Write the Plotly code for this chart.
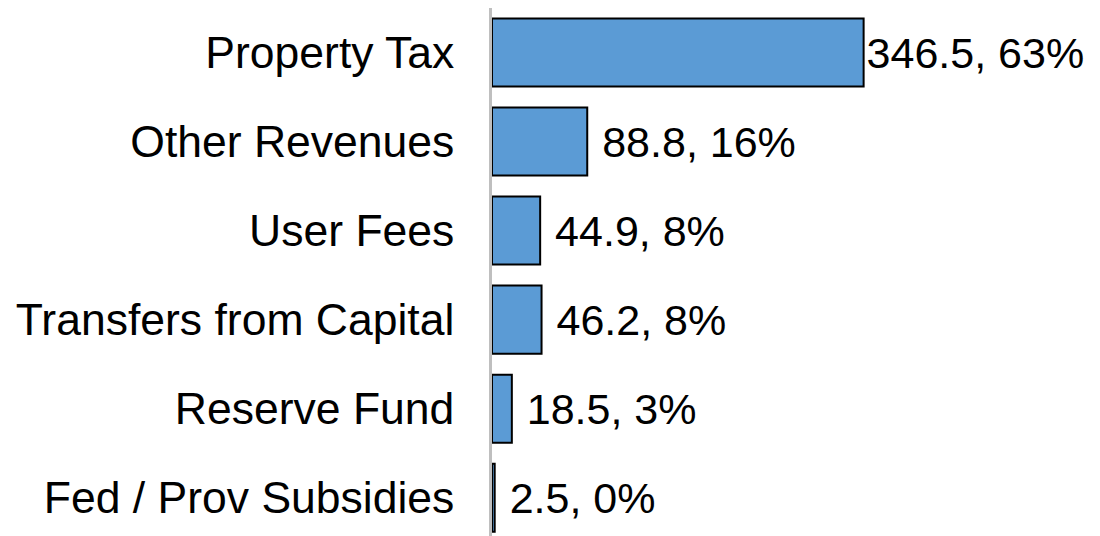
import plotly.graph_objects as go

categories = ["Property Tax", "Other Revenues", "User Fees",
              "Transfers from Capital", "Reserve Fund", "Fed / Prov Subsidies"]
amounts = [346.5, 88.8, 44.9, 46.2, 18.5, 2.5]
shares = [63, 16, 8, 8, 3, 0]

# label text: the widest one sits tight against its bar, the rest get a little gap
labels = [f"{a}, {s}%" for a, s in zip(amounts, shares)]
labels = [labels[0]] + ["\u00a0" + t for t in labels[1:]]

fig = go.Figure()
fig.add_trace(go.Bar(
    x=amounts,
    y=categories,
    orientation="h",
    marker=dict(color="#5B9BD5", line=dict(color="black", width=2)),
    text=labels,
    textposition="outside",
    textfont=dict(size=43, color="black", family="Liberation Sans, Arial"),
    cliponaxis=False,
    hoverinfo="none",
))

# the page body has an 8px margin, so the figure is nudged up/left to compensate
fig.update_layout(
    width=1100,
    height=536,
    margin=dict(l=484, r=187, t=0, b=0),
    plot_bgcolor="white",
    paper_bgcolor="white",
    bargap=0.236,
    showlegend=False,
    font=dict(family="Liberation Sans, Arial", color="black"),
    xaxis=dict(range=[0, 400], visible=False, fixedrange=True),
    yaxis=dict(
        range=[5.52, -0.5],
        showline=True,
        linecolor="#BFBFBF",
        linewidth=2.5,
        ticks="",
        showgrid=False,
        zeroline=False,
        tickfont=dict(size=44.5, color="black"),
        ticklabelstandoff=26,
        fixedrange=True,
    ),
)

fig.write_html("out.html")
